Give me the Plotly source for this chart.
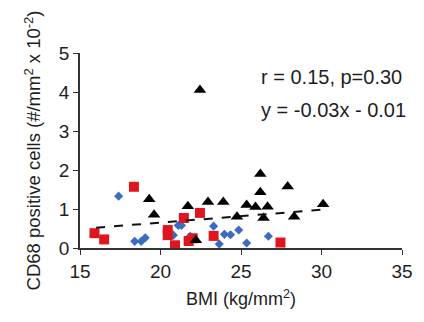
import plotly.graph_objects as go

# Black triangles
tri_x = [19.3, 19.6, 21.7, 22.2, 22.45, 22.95, 23.9, 24.75, 25.35, 25.9, 26.2, 26.2, 26.4, 26.65, 27.9, 28.3, 30.1]
tri_y = [1.25, 0.85, 1.07, 0.2, 4.05, 1.18, 1.18, 0.8, 1.1, 1.05, 1.9, 1.43, 0.77, 1.06, 1.58, 0.8, 1.12]

# Red squares
sq_x = [15.9, 16.5, 18.35, 20.45, 20.45, 20.9, 21.45, 21.75, 22.0, 22.45, 23.3, 27.45]
sq_y = [0.38, 0.22, 1.57, 0.46, 0.33, 0.07, 0.77, 0.18, 0.25, 0.9, 0.31, 0.14]

# Blue diamonds
dia_x = [17.4, 18.4, 18.8, 19.05, 20.8, 21.1, 21.3, 21.85, 23.3, 23.65, 23.97, 24.35, 24.86, 25.35, 26.7]
dia_y = [1.33, 0.17, 0.17, 0.26, 0.33, 0.58, 0.58, 0.3, 0.56, 0.1, 0.35, 0.34, 0.46, 0.13, 0.3]

# Trend line end points
trend_x = [16, 30]
trend_y = [0.52, 0.98]

x_ticks = [15, 20, 25, 30, 35]
y_ticks = [0, 1, 2, 3, 4, 5]

FONT = "Liberation Sans, Arial, sans-serif"
TXT = "#1e1e1e"

fig = go.Figure()
fig.add_trace(go.Scatter(x=dia_x, y=dia_y, mode="markers",
                         marker=dict(symbol="diamond", size=7, color="#3a6cc0", line=dict(width=0))))
fig.add_trace(go.Scatter(x=sq_x, y=sq_y, mode="markers",
                         marker=dict(symbol="square", size=10, color="#e0161e", line=dict(width=0))))
fig.add_trace(go.Scatter(x=tri_x, y=tri_y, mode="markers",
                         marker=dict(symbol="triangle-up", size=11, color="#000000", line=dict(width=0))))
fig.add_trace(go.Scatter(x=trend_x, y=trend_y, mode="lines",
                         line=dict(color="#111111", width=2, dash="dash")))

# page body adds an 8px margin, so the figure is 8px smaller and offsets compensated
fig.update_layout(
    width=416, height=314,
    margin=dict(l=72, r=11, t=45, b=74),
    plot_bgcolor="white", paper_bgcolor="white",
    showlegend=False,
    font=dict(family=FONT, color=TXT),
    xaxis=dict(range=[15, 35], tickvals=x_ticks, showgrid=False, zeroline=False,
               showline=True, linecolor="#333333", linewidth=1.5,
               ticks="outside", ticklen=5, tickcolor="#333333",
               tickfont=dict(size=19, family=FONT, color=TXT),
               title=dict(text="BMI (kg/mm<sup>2</sup>)", font=dict(size=18, family=FONT, color=TXT),
                          standoff=12)),
    yaxis=dict(range=[0, 5], tickvals=y_ticks, showgrid=False, zeroline=False,
               showline=True, linecolor="#333333", linewidth=1.5,
               ticks="outside", ticklen=5, tickcolor="#333333",
               tickfont=dict(size=19, family=FONT, color=TXT),
               title=dict(text="CD68 positive cells (#/mm<sup>2</sup> x 10<sup>-2</sup>)",
                          font=dict(size=18.5, family=FONT, color=TXT), standoff=13)),
)

fig.add_annotation(xref="paper", yref="paper", x=0.556, y=0.877, xanchor="left", yanchor="middle",
                   text="r = 0.15, p=0.30", showarrow=False, font=dict(size=20, family=FONT, color=TXT))
fig.add_annotation(xref="paper", yref="paper", x=0.556, y=0.708, xanchor="left", yanchor="middle",
                   text="y = -0.03x - 0.01", showarrow=False, font=dict(size=20, family=FONT, color=TXT))

fig.write_html("out.html")
